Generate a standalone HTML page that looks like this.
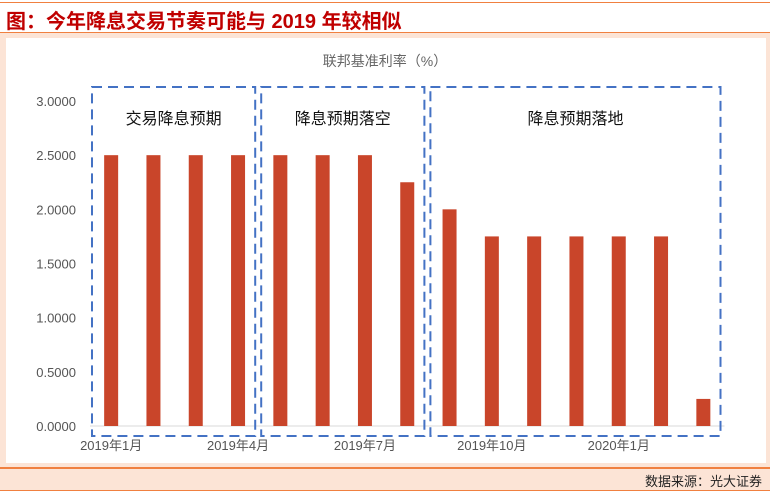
<!DOCTYPE html>
<html><head><meta charset="utf-8"><style>
body{margin:0;width:770px;height:497px;background:#fff;overflow:hidden;font-family:"Liberation Sans","Noto Sans CJK SC",sans-serif;position:relative}
.abs{position:absolute}
</style></head><body>
<div class="abs" style="left:0;top:2px;width:770px;height:1px;background:#F08040"></div>
<div class="abs" style="left:6px;top:5px;font-size:20px;font-weight:bold;color:#C00000;font-family:'Liberation Sans','Noto Sans CJK SC',sans-serif;white-space:nowrap">图：今年降息交易节奏可能与 2019 年较相似</div>
<div class="abs" style="left:0;top:32px;width:770px;height:1px;background:#F08040"></div>
<div class="abs" style="left:0;top:33px;width:770px;height:435px;background:#FCE4D6"></div>
<div class="abs" style="left:6px;top:38px;width:760px;height:425px;background:#fff"></div>
<div class="abs" style="left:0;top:467px;width:770px;height:2px;background:#F08040"></div>
<div class="abs" style="left:0;top:469px;width:770px;height:22px;background:#FCE4D6"></div>
<div class="abs" style="right:8px;top:471px;font-size:13px;color:#222">数据来源：光大证券</div>
<div class="abs" style="left:0;top:490px;width:770px;height:1px;background:#F08040"></div>
<svg class="abs" style="left:0;top:0" width="770" height="497" id="chart"></svg>
<script>
const categories=["2019年1月","2019年2月","2019年3月","2019年4月","2019年5月","2019年6月","2019年7月","2019年8月","2019年9月","2019年10月","2019年11月","2019年12月","2020年1月","2020年2月","2020年3月"];
const rates=[2.5,2.5,2.5,2.5,2.5,2.5,2.5,2.25,2.0,1.75,1.75,1.75,1.75,1.75,0.25];
const yTicks=[0,0.5,1,1.5,2,2.5,3];
const xLabelIdx=[0,3,6,9,12];
const groups=[{label:"交易降息预期",from:0,to:3},{label:"降息预期落空",from:4,to:7},{label:"降息预期落地",from:8,to:14}];
const svg=document.getElementById('chart');const NS="http://www.w3.org/2000/svg";
const x0=90,step=42.3,y0=426,yTop=101,ymax=3;
function xs(i){return x0+step*(i+0.5);}
function ys(v){return y0-(v/ymax)*(y0-yTop);}
function mk(t,a,txt){const e=document.createElementNS(NS,t);for(const k in a)e.setAttribute(k,a[k]);if(txt!==undefined)e.textContent=txt;svg.appendChild(e);return e;}
let e=mk('text',{x:385,y:66,'font-size':14,fill:'#666','text-anchor':'middle'},'联邦基准利率（%）');


yTicks.forEach(v=>{const t=mk('text',{x:76,y:ys(v)+5,'font-size':13,fill:'#555','text-anchor':'end'},v.toFixed(4));

});
const ax=mk('line',{x1:x0,x2:x0+step*15,y1:y0,y2:y0,stroke:'#D9D9D9','stroke-width':1});


rates.forEach((v,i)=>{const b=mk('rect',{x:xs(i)-7,y:ys(v),width:14,height:y0-ys(v),fill:'#C9452A'});

});
xLabelIdx.forEach(i=>{const t=mk('text',{x:xs(i),y:450,'font-size':13,fill:'#555','text-anchor':'middle'},categories[i]);

});
groups.forEach(g=>{const l=xs(g.from)-step/2+2,r=xs(g.to)+step/2-4;
const rc=mk('rect',{x:l,y:87,width:r-l,height:349,fill:'none',stroke:'#4472C4','stroke-width':2,'stroke-dasharray':'10,6'});


const t=mk('text',{x:(l+r)/2,y:124,'font-size':16,fill:'#111','text-anchor':'middle'},g.label);

});
</script>
</body></html>
